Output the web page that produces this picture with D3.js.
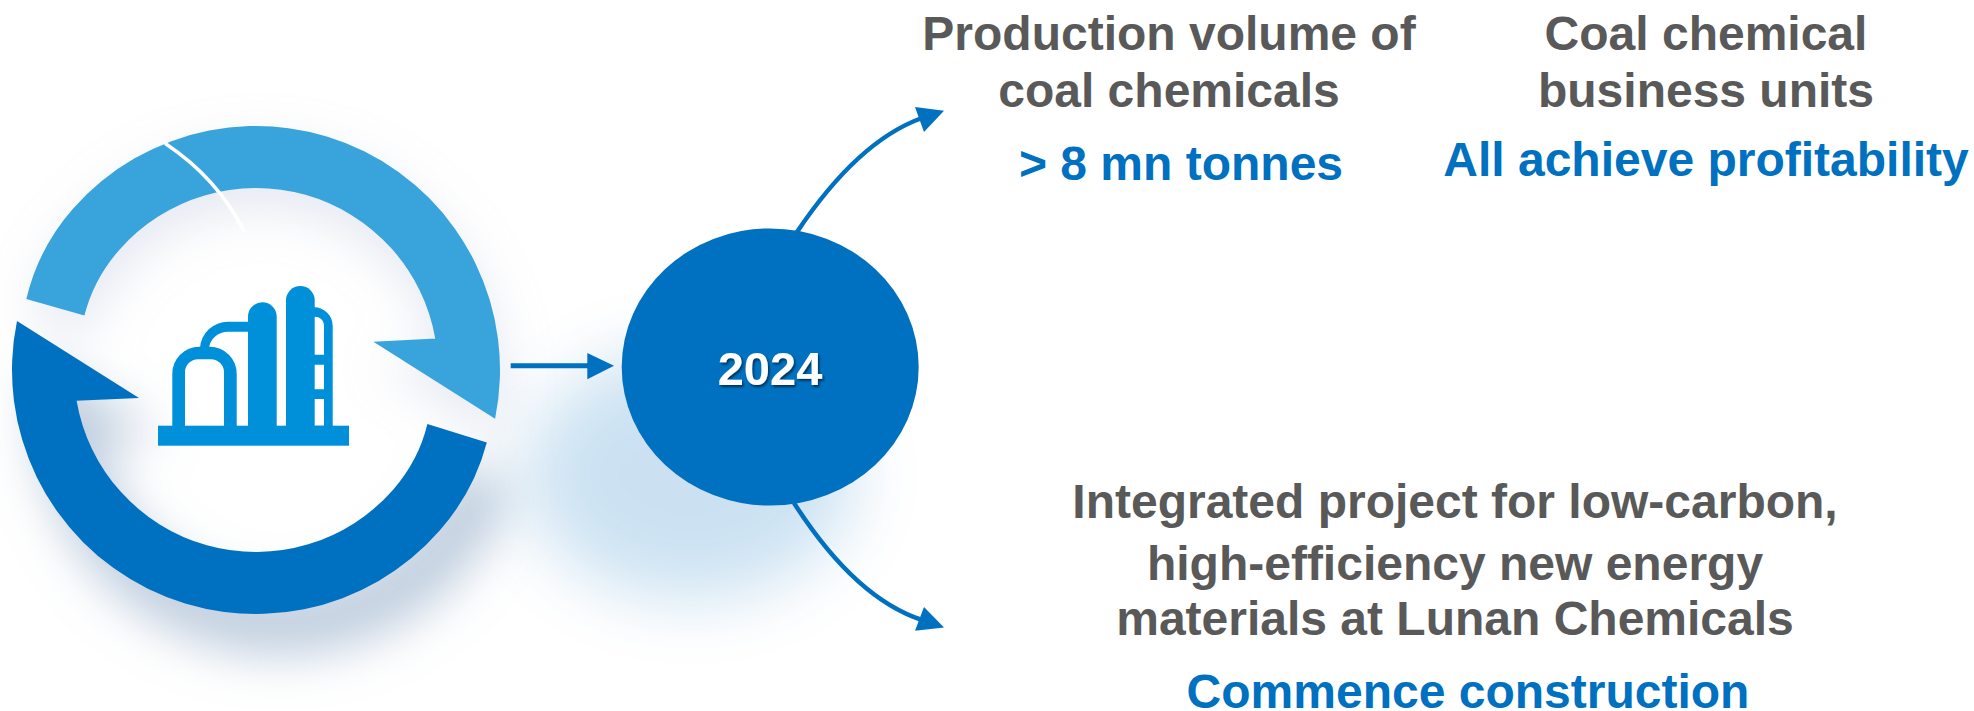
<!DOCTYPE html>
<html><head><meta charset="utf-8">
<script src="https://cdnjs.cloudflare.com/ajax/libs/d3/7.8.5/d3.min.js"></script>
<style>html,body{margin:0;padding:0;background:#fff;overflow:hidden}svg{display:block}
text{font-family:"Liberation Sans",Arial,sans-serif;font-weight:700;text-anchor:middle}</style>
</head><body><svg id="c" width="1974" height="711"></svg>
<script>
const centreLabel = "2024";
const headlines = [
  {x:1169, lines:["Production volume of","coal chemicals"], ys:[50,107]},
  {x:1706, lines:["Coal chemical","business units"], ys:[50,107]},
  {x:1455, lines:["Integrated project for low-carbon,","high-efficiency new energy","materials at Lunan Chemicals"], ys:[518,580,635]}
];
const results = [
  {x:1181, y:180, text:"> 8 mn tonnes"},
  {x:1706, y:176, text:"All achieve profitability"},
  {x:1468, y:708, text:"Commence construction"}
];
const GREY="#595959", BLUE="#0070C0", LIGHT="#39A3DC", ICON="#0090DA";
const R=244, r=182, cx=256, cy=370;
// Polar helper: degrees clockwise from twelve o'clock around the ring centre
const pt=(rad,deg)=>{const a=deg*Math.PI/180;return [cx+rad*Math.sin(a),cy-rad*Math.cos(a)];};
const arcSeg=(p,rad,a0,a1)=>{
  const s=pt(rad,a0);
  p.lineTo(s[0],s[1]);
  p.arc(cx,cy,rad,(a0-90)*Math.PI/180,(a1-90)*Math.PI/180,a1<a0);
};
// Eases between a flat-end corner and the true circle without a visible kink
const easeTo=(p,rad,midDeg,target)=>{
  const c=pt(rad/Math.cos(12*Math.PI/180),midDeg);
  p.quadraticCurveTo(c[0],c[1],target[0],target[1]);
};

const svg=d3.select("#c");
const defs=svg.append("defs");
const blur=(id,sd)=>defs.append("filter").attr("id",id).attr("filterUnits","userSpaceOnUse")
  .attr("x",-100).attr("y",0).attr("width",1300).attr("height",711)
  .append("feGaussianBlur").attr("stdDeviation",sd);
blur("softRing",25); blur("softDisc",34);
const ts=defs.append("filter").attr("id","ts").attr("x","-10%").attr("y","-20%").attr("width","130%").attr("height","150%");
ts.append("feDropShadow").attr("dx",1.5).attr("dy",2).attr("stdDeviation",1.2).attr("flood-color","#000").attr("flood-opacity",.55);

// Ring segments ending in arrow barbs; the flat ends sit slightly inside the true circle
const lp=d3.path();
lp.moveTo(26.3,299);
easeTo(lp,R,-60.6,pt(R,-48.6));
arcSeg(lp,R,-48.6,101.5); lp.lineTo(373.4,341.8); lp.lineTo(436,338.6);
arcSeg(lp,r,80.1,-48.6);
easeTo(lp,r,-60.6,[84.4,315.5]); lp.closePath();
const dp=d3.path();
dp.moveTo(486.8,442.5);
easeTo(dp,R,119,pt(R,131));
arcSeg(dp,R,131,281.6); dp.lineTo(139,398); dp.lineTo(76.2,400.7);
arcSeg(dp,r,260.3,131);
easeTo(dp,r,119,[427.4,424]); dp.closePath();
const lightPath=lp.toString(), darkPath=dp.toString();

// Diffuse shadows under the ring and the year disc
const shadow=svg.append("g").attr("filter","url(#softRing)");
shadow.append("path").attr("d",darkPath).attr("fill","#7f9cbd").attr("opacity",.52).attr("transform","translate(24,40)");
shadow.append("path").attr("d",lightPath).attr("fill","#a4b3d2").attr("opacity",.3).attr("transform","translate(4,20)");
svg.append("ellipse").attr("cx",690).attr("cy",475).attr("rx",165).attr("ry",125).attr("fill",BLUE).attr("opacity",.2).attr("filter","url(#softDisc)");

svg.append("path").attr("d",lightPath).attr("fill",LIGHT);
svg.append("path").attr("d",darkPath).attr("fill",BLUE);
// Thin highlight that cuts across the light segment
const q=d3.path(); q.moveTo(166,144); q.quadraticCurveTo(217,178,244,231);
svg.append("path").attr("d",q.toString()).attr("fill","none").attr("stroke","#fff").attr("stroke-width",3.5).attr("stroke-linecap","round");

// Refinery icon
const icon=svg.append("g").attr("fill",ICON);
icon.append("rect").attr("x",158).attr("y",425.7).attr("width",191).attr("height",20);
icon.append("path").attr("fill-rule","evenodd").attr("d",
 "M172.3,427 V374 A27,27 0 0 1 199.3,346.7 H209.7 A27,27 0 0 1 236.7,374 V427 H224 V372.3 A13,13 0 0 0 211,359.3 H198 A13,13 0 0 0 185,372.3 V427 Z");
icon.append("path").attr("d","M200,348 A28,28 0 0 1 228,321.7 H250 V331.7 H228 A19,19 0 0 0 209,348 Z");
icon.append("path").attr("d","M248,427 V316.6 A14.35,14.35 0 0 1 276.7,316.6 V427 Z");
icon.append("path").attr("d","M286,427 V300.3 A14.35,14.35 0 0 1 314.7,300.3 V427 Z");
icon.append("path").attr("fill-rule","evenodd").attr("d",
 "M314,307.3 A18.7,18.7 0 0 1 332.7,326 V427 H314 V425.7 H324 V399 H314 V389.3 H324 V364.7 H314 V354.7 H324 V326 A9,9 0 0 0 314,316.7 Z");

// Disc and connectors
const arrow=svg.append("g");
arrow.append("line").attr("x1",510.7).attr("y1",365.7).attr("x2",592).attr("y2",365.7).attr("stroke",BLUE).attr("stroke-width",5);
arrow.append("polygon").attr("points","587.3,352.9 614,365.7 587.3,379.3").attr("fill",BLUE);
const up=d3.path(); up.moveTo(797,232); up.quadraticCurveTo(858,141,922,118);
const down=d3.path(); down.moveTo(794,503); down.quadraticCurveTo(855,598,922,620);
arrow.append("path").attr("d",up.toString()).attr("fill","none").attr("stroke",BLUE).attr("stroke-width",4.5);
arrow.append("polygon").attr("points","915,107 944,110.7 924,132").attr("fill",BLUE);
arrow.append("path").attr("d",down.toString()).attr("fill","none").attr("stroke",BLUE).attr("stroke-width",4.5);
arrow.append("polygon").attr("points","924,607 944,627.5 915,630.7").attr("fill",BLUE);
svg.append("ellipse").attr("cx",770.2).attr("cy",367).attr("rx",148.5).attr("ry",138.6).attr("fill",BLUE);
svg.append("text").attr("x",770).attr("y",385).attr("font-size",47).attr("fill","#fff").attr("filter","url(#ts)").text(centreLabel);

// Headlines and outcome lines
headlines.forEach(h=>h.lines.forEach((t,i)=>svg.append("text").attr("x",h.x).attr("y",h.ys[i]).attr("font-size",48).attr("fill",GREY).text(t)));
svg.selectAll(".res").data(results).join("text").attr("class","res").attr("x",d=>d.x).attr("y",d=>d.y).attr("font-size",48).attr("fill",BLUE).text(d=>d.text);
</script></body></html>
